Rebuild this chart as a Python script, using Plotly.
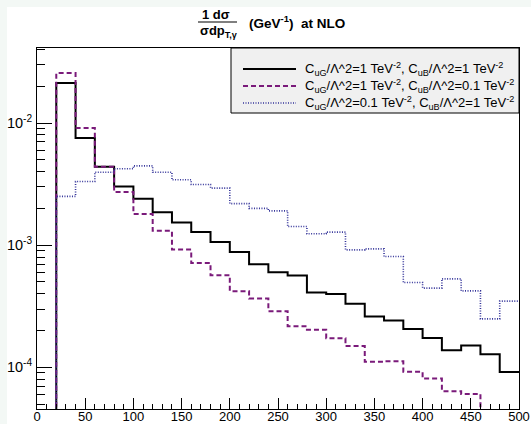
import plotly.graph_objects as go

# ---- data (bins of 20 GeV from 0 to 500) ----
bin_edges = list(range(0, 520, 20))
label_1 = "C<sub>uG</sub>/Λ^2=1 TeV<sup>-2</sup>, C<sub>uB</sub>/Λ^2=1 TeV<sup>-2</sup>"
label_2 = "C<sub>uG</sub>/Λ^2=1 TeV<sup>-2</sup>, C<sub>uB</sub>/Λ^2=0.1 TeV<sup>-2</sup>"
label_3 = "C<sub>uG</sub>/Λ^2=0.1 TeV<sup>-2</sup>, C<sub>uB</sub>/Λ^2=1 TeV<sup>-2</sup>"

vals_1 = [0, 0.0213, 0.00753, 0.00439, 0.00302, 0.0024, 0.00186, 0.00153, 0.00128,
          0.00106, 0.00088, 0.000698, 0.000601, 0.000564, 0.000409, 0.000399,
          0.000332, 0.00026, 0.000241, 0.000206, 0.000174, 0.000138, 0.000151,
          0.000128, 0.0000915]
vals_2 = [0, 0.0257, 0.0091, 0.00439, 0.00272, 0.0018, 0.00131, 0.00092, 0.000716,
          0.000567, 0.00042, 0.000365, 0.000288, 0.000217, 0.000203, 0.000173,
          0.000149, 0.000111, 0.000112, 0.000092, 0.0000807, 0.0000636, 0.0000604,
          0, 0]
vals_3 = [0, 0.00251, 0.00332, 0.00396, 0.00422, 0.00446, 0.00396, 0.00343, 0.00314,
          0.00293, 0.00219, 0.002, 0.00191, 0.00142, 0.00124, 0.00128, 0.000915,
          0.000933, 0.000807, 0.000494, 0.000445, 0.00053, 0.000422, 0.000249,
          0.000348]

x_ticks = list(range(0, 550, 50))
y_ticks = [1e-4, 1e-3, 1e-2]
y_ticktext = ["10<sup>-4</sup>", "10<sup>-3</sup>", "10<sup>-2</sup>"]

# ---- layout geometry ----
W, H = 531, 424
L, R, T, B = 37, 12, 48, 15
PW, PH = W - L - R, H - T - B
FLOOR = 1e-6  # empty bins drawn below the visible range


def px(x):
    return (x - L) / PW


def py(y):
    return 1 - (y - T) / PH


def step(vals):
    ys = [v if v > 0 else FLOOR for v in vals]
    return bin_edges, ys + [ys[-1]]


FONT = "Liberation Sans, Arial, sans-serif"
styles = [
    (vals_1, label_1, dict(color="black", width=2, dash="solid")),
    (vals_2, label_2, dict(color="#7a1a7a", width=2, dash="5px,3px")),
    (vals_3, label_3, dict(color="#35359a", width=1.6, dash="1px,1.5px")),
]

fig = go.Figure()
for vals, name, ln in styles:
    xs, ys = step(vals)
    fig.add_trace(go.Scatter(x=xs, y=ys, mode="lines", line_shape="hv",
                             line=ln, name=name, showlegend=False,
                             hoverinfo="skip"))

shapes = []
annotations = []
# white pad inside the light canvas
shapes.append(dict(type="rect", xref="paper", yref="paper", layer="below",
                   x0=px(7), x1=px(W + 5), y0=py(7), y1=py(H + 5),
                   fillcolor="white", line=dict(width=0)))

# legend box
lx0, lx1, ly0, ly1 = 231, 519, 48, 113
shapes.append(dict(type="rect", xref="paper", yref="paper",
                   x0=px(lx0), x1=px(lx1), y0=py(ly1), y1=py(ly0),
                   fillcolor="#f0f0f0", line=dict(color="black", width=1)))
rows = [69, 86, 103]
for (vals, name, ln), ry in zip(styles, rows):
    shapes.append(dict(type="line", xref="paper", yref="paper",
                       x0=px(243), x1=px(296), y0=py(ry), y1=py(ry),
                       line=ln))
    annotations.append(dict(text=name, xref="paper", yref="paper",
                            x=px(303), y=py(ry), xanchor="left", yanchor="middle",
                            showarrow=False, font=dict(family=FONT, size=13, color="black")))

# title as a fraction
shapes.append(dict(type="line", xref="paper", yref="paper",
                   x0=px(198), x1=px(237), y0=py(22), y1=py(22),
                   line=dict(color="black", width=1.2)))
annotations.append(dict(text="<b>1 dσ</b>", xref="paper", yref="paper",
                        x=px(216), y=py(15), xanchor="center", yanchor="middle",
                        showarrow=False, font=dict(family=FONT, size=13, color="black")))
annotations.append(dict(text="<b>σdp<sub>T,γ</sub></b>", xref="paper", yref="paper",
                        x=px(198), y=py(31), xanchor="left", yanchor="middle",
                        showarrow=False, font=dict(family=FONT, size=13, color="black")))
annotations.append(dict(text="<b>(GeV<sup>-1</sup>)\u00a0\u00a0at NLO</b>", xref="paper", yref="paper",
                        x=px(247), y=py(22), xanchor="left", yanchor="middle",
                        showarrow=False, font=dict(family=FONT, size=13.5, color="black")))

minor_y = [m * 10.0 ** e for e in range(-5, -1) for m in range(2, 10)]

fig.update_layout(
    width=W, height=H,
    margin=dict(l=L, r=R, t=T, b=B, autoexpand=False),
    paper_bgcolor="#f3f8f5", plot_bgcolor="rgba(0,0,0,0)",
    shapes=shapes, annotations=annotations,
    font=dict(family=FONT, size=13, color="black"),
    xaxis=dict(range=[0, 500], tickvals=x_ticks, ticks="inside", ticklen=11,
               tickcolor="black", showline=True, linecolor="black", linewidth=1,
               mirror=True, showgrid=False, zeroline=False, automargin=False,
               tickfont=dict(family=FONT, size=13, color="black"),
               ticklabelstandoff=-5,
               minor=dict(dtick=10, ticks="inside", ticklen=5, tickcolor="black",
                          showgrid=False)),
    yaxis=dict(type="log", range=[-4.342, -1.385], tickvals=y_ticks,
               ticktext=y_ticktext, ticks="inside", ticklen=15, tickcolor="black",
               showline=True, linecolor="black", linewidth=1, mirror=True,
               showgrid=False, zeroline=False, automargin=False,
               tickfont=dict(family=FONT, size=14.5, color="black"),
               ticklabelstandoff=1,
               minor=dict(tickvals=minor_y, ticks="inside", ticklen=8,
                          tickcolor="black", showgrid=False)),
)

fig.write_html("out.html", config={"displayModeBar": False},
               post_script="document.body.style.margin='0';document.body.style.overflow='hidden';")
